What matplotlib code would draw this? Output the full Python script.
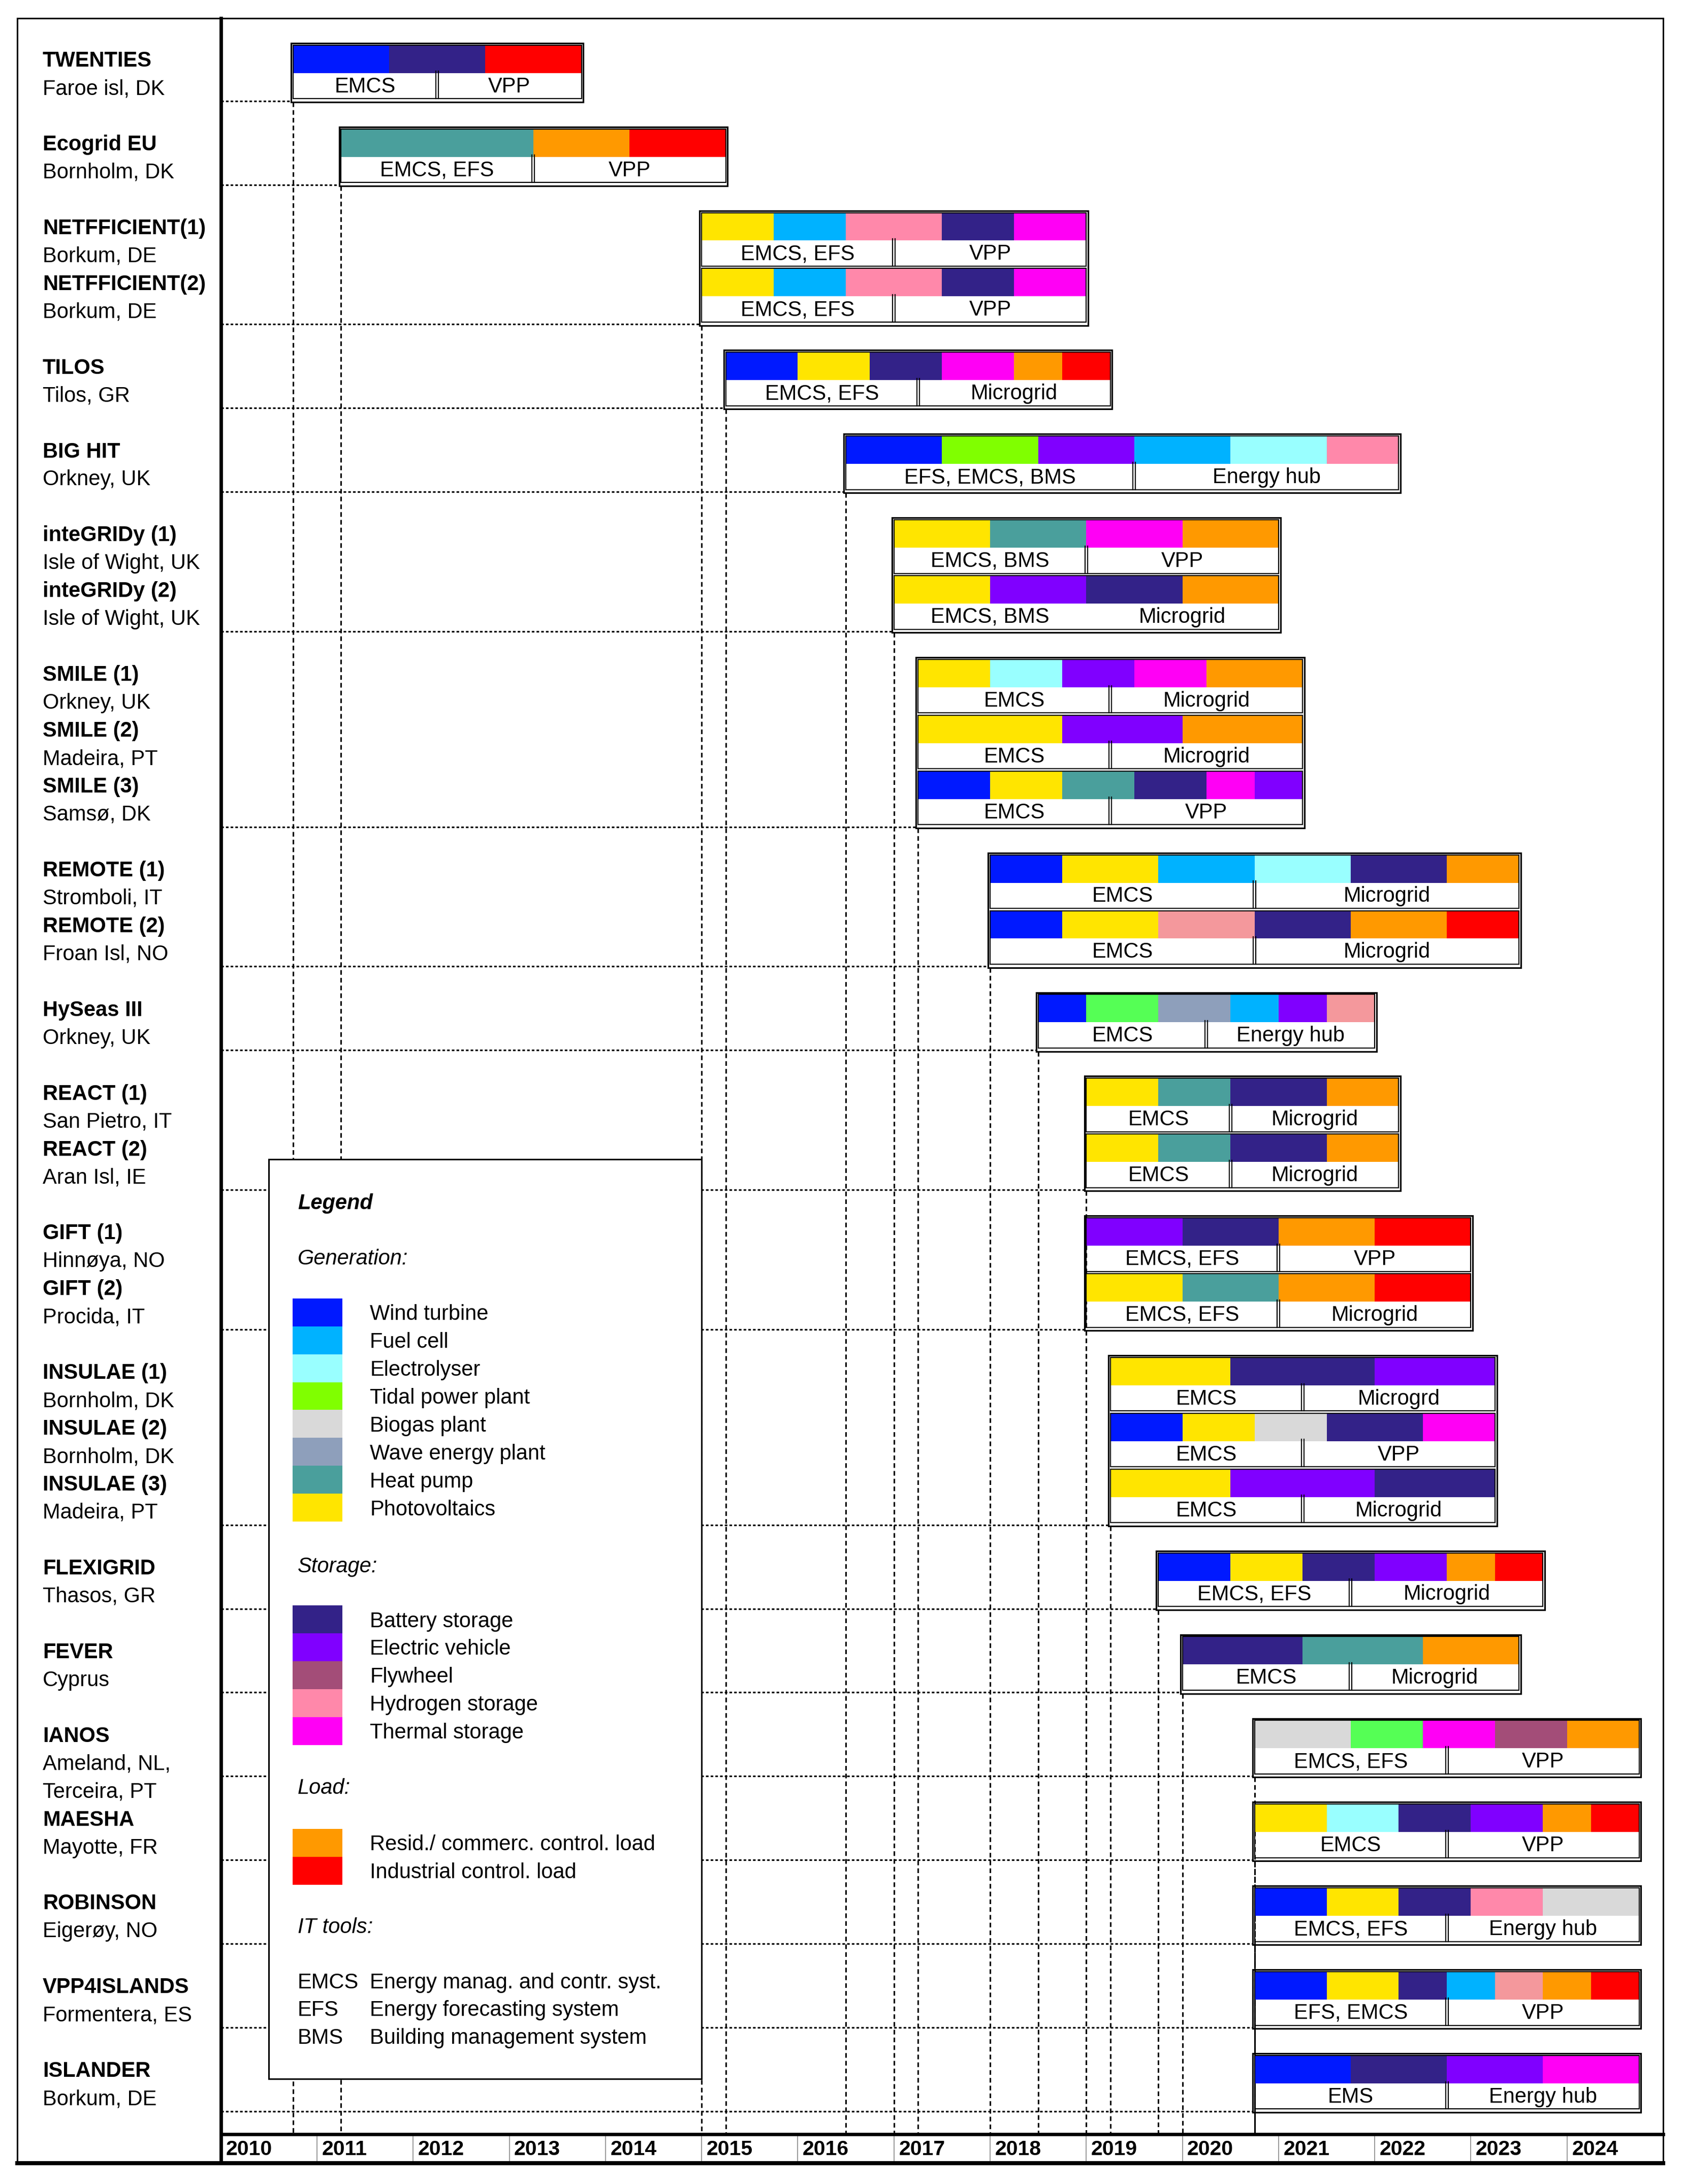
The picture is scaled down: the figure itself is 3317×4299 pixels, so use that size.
import matplotlib
matplotlib.use("Agg")
import matplotlib.pyplot as plt
from matplotlib.patches import Rectangle

plt.rcParams['font.family'] = ['Liberation Sans', 'DejaVu Sans']

# ---------------- data ----------------
years = list(range(2010, 2025))

component_codes = ['W', 'FC', 'EL', 'TI', 'BG', 'WV', 'HP', 'PV',
                   'BA', 'EV', 'FW', 'H2', 'TS', 'RL', 'IL', 'H2b', 'TIb']
component_colors = ['#0019FF', '#00B2FF', '#99FFFF', '#80FF00', '#D9D9D9', '#8E9FBB', '#4A9F9C', '#FFE500',
                    '#332288', '#8000FF', '#A34D78', '#FF88AA', '#FF00F5', '#FF9900', '#FF0000', '#F4989C', '#55FF55']

gen_labels = ['Wind turbine', 'Fuel cell', 'Electrolyser', 'Tidal power plant', 'Biogas plant',
              'Wave energy plant', 'Heat pump', 'Photovoltaics']
gen_codes = ['W', 'FC', 'EL', 'TI', 'BG', 'WV', 'HP', 'PV']
sto_labels = ['Battery storage', 'Electric vehicle', 'Flywheel', 'Hydrogen storage', 'Thermal storage']
sto_codes = ['BA', 'EV', 'FW', 'H2', 'TS']
load_labels = ['Resid./ commerc. control. load', 'Industrial control. load']
load_codes = ['RL', 'IL']
it_abbr = ['EMCS', 'EFS', 'BMS']
it_desc = ['Energy manag. and contr. syst.', 'Energy forecasting system', 'Building management system']

project_lines = [
    [('TWENTIES', True), ('Faroe isl, DK', False)],
    [('Ecogrid EU', True), ('Bornholm, DK', False)],
    [('NETFFICIENT(1)', True), ('Borkum, DE', False), ('NETFFICIENT(2)', True), ('Borkum, DE', False)],
    [('TILOS', True), ('Tilos, GR', False)],
    [('BIG HIT', True), ('Orkney, UK', False)],
    [('inteGRIDy (1)', True), ('Isle of Wight, UK', False), ('inteGRIDy (2)', True), ('Isle of Wight, UK', False)],
    [('SMILE (1)', True), ('Orkney, UK', False), ('SMILE (2)', True), ('Madeira, PT', False),
     ('SMILE (3)', True), ('Samsø, DK', False)],
    [('REMOTE (1)', True), ('Stromboli, IT', False), ('REMOTE (2)', True), ('Froan Isl, NO', False)],
    [('HySeas III', True), ('Orkney, UK', False)],
    [('REACT (1)', True), ('San Pietro, IT', False), ('REACT (2)', True), ('Aran Isl, IE', False)],
    [('GIFT (1)', True), ('Hinnøya, NO', False), ('GIFT (2)', True), ('Procida, IT', False)],
    [('INSULAE (1)', True), ('Bornholm, DK', False), ('INSULAE (2)', True), ('Bornholm, DK', False),
     ('INSULAE (3)', True), ('Madeira, PT', False)],
    [('FLEXIGRID', True), ('Thasos, GR', False)],
    [('FEVER', True), ('Cyprus', False)],
    [('IANOS', True), ('Ameland, NL,', False), ('Terceira, PT', False)],
    [('MAESHA', True), ('Mayotte, FR', False)],
    [('ROBINSON', True), ('Eigerøy, NO', False)],
    [('VPP4ISLANDS', True), ('Formentera, ES', False)],
    [('ISLANDER', True), ('Borkum, DE', False)],
]
project_start = [2010.75, 2011.25, 2015.0, 2015.25, 2016.5, 2017.0, 2017.25, 2018.0, 2018.5, 2019.0,
                 2019.0, 2019.25, 2019.75, 2020.0, 2020.75, 2020.75, 2020.75, 2020.75, 2020.75]
project_end = [2013.75, 2015.25, 2019.0, 2019.25, 2022.25, 2021.0, 2021.25, 2023.5, 2022.0, 2022.25,
               2023.0, 2023.25, 2023.75, 2023.5, 2024.75, 2024.75, 2024.75, 2024.75, 2024.75]

bar_group = [0, 1, 2, 2, 3, 4, 5, 5, 6, 6, 6, 7, 7, 8, 9, 9, 10, 10, 11, 11, 11, 12, 13, 14, 15, 16, 17, 18]
bar_segments = [
    [('W', 1), ('BA', 1), ('IL', 1)],
    [('HP', 2), ('RL', 1), ('IL', 1)],
    [('PV', .75), ('FC', .75), ('H2', 1), ('BA', .75), ('TS', .75)],
    [('PV', .75), ('FC', .75), ('H2', 1), ('BA', .75), ('TS', .75)],
    [('W', .75), ('PV', .75), ('BA', .75), ('TS', .75), ('RL', .5), ('IL', .5)],
    [('W', 1), ('TI', 1), ('EV', 1), ('FC', 1), ('EL', 1), ('H2', .75)],
    [('PV', 1), ('HP', 1), ('TS', 1), ('RL', 1)],
    [('PV', 1), ('EV', 1), ('BA', 1), ('RL', 1)],
    [('PV', .75), ('EL', .75), ('EV', .75), ('TS', .75), ('RL', 1)],
    [('PV', 1.5), ('EV', 1.25), ('RL', 1.25)],
    [('W', .75), ('PV', .75), ('HP', .75), ('BA', .75), ('TS', .5), ('EV', .5)],
    [('W', .75), ('PV', 1), ('FC', 1), ('EL', 1), ('BA', 1), ('RL', .75)],
    [('W', .75), ('PV', 1), ('H2b', 1), ('BA', 1), ('RL', 1), ('IL', .75)],
    [('W', .5), ('TIb', .75), ('WV', .75), ('FC', .5), ('EV', .5), ('H2b', .5)],
    [('PV', .75), ('HP', .75), ('BA', 1), ('RL', .75)],
    [('PV', .75), ('HP', .75), ('BA', 1), ('RL', .75)],
    [('EV', 1), ('BA', 1), ('RL', 1), ('IL', 1)],
    [('PV', 1), ('HP', 1), ('RL', 1), ('IL', 1)],
    [('PV', 1.25), ('BA', 1.5), ('EV', 1.25)],
    [('W', .75), ('PV', .75), ('BG', .75), ('BA', 1), ('TS', .75)],
    [('PV', 1.25), ('EV', 1.5), ('BA', 1.25)],
    [('W', .75), ('PV', .75), ('BA', .75), ('EV', .75), ('RL', .5), ('IL', .5)],
    [('BA', 1.25), ('HP', 1.25), ('RL', 1)],
    [('BG', 1), ('TIb', .75), ('TS', .75), ('FW', .75), ('RL', .75)],
    [('PV', .75), ('EL', .75), ('BA', .75), ('EV', .75), ('RL', .5), ('IL', .5)],
    [('W', .75), ('PV', .75), ('BA', .75), ('H2', .75), ('BG', 1)],
    [('W', .75), ('PV', .75), ('BA', .5), ('FC', .5), ('H2b', .5), ('RL', .5), ('IL', .5)],
    [('W', 1), ('BA', 1), ('EV', 1), ('TS', 1)],
]
bar_left_label = ['EMCS', 'EMCS, EFS', 'EMCS, EFS', 'EMCS, EFS', 'EMCS, EFS', 'EFS, EMCS, BMS',
                  'EMCS, BMS', 'EMCS, BMS', 'EMCS', 'EMCS', 'EMCS', 'EMCS', 'EMCS', 'EMCS',
                  'EMCS', 'EMCS', 'EMCS, EFS', 'EMCS, EFS', 'EMCS', 'EMCS', 'EMCS', 'EMCS, EFS',
                  'EMCS', 'EMCS, EFS', 'EMCS', 'EMCS, EFS', 'EFS, EMCS', 'EMS']
bar_right_label = ['VPP', 'VPP', 'VPP', 'VPP', 'Microgrid', 'Energy hub',
                   'VPP', 'Microgrid', 'Microgrid', 'Microgrid', 'VPP', 'Microgrid', 'Microgrid', 'Energy hub',
                   'Microgrid', 'Microgrid', 'VPP', 'Microgrid', 'Microgrd', 'VPP', 'Microgrid', 'Microgrid',
                   'Microgrid', 'VPP', 'VPP', 'Energy hub', 'VPP', 'Energy hub']
bar_divider = [2012.25, 2013.25, 2017.0, 2017.0, 2017.25, 2019.5,
               2019.0, None, 2019.25, 2019.25, 2019.25, 2020.75, 2020.75, 2020.25,
               2020.5, 2020.5, 2021.0, 2021.0, 2021.25, 2021.25, 2021.25, 2021.75,
               2021.75, 2022.75, 2022.75, 2022.75, 2022.75, 2022.75]

# ---------------- layout ----------------
W, H, DPI = 3317, 4299, 100
PX_U = 54.96            # pixels per row unit
X0_PX, X1_PX = 434.8, 3274.0
YEAR0, YEAR1 = 2010, 2025
YEAR_PX = (X1_PX - X0_PX) / (YEAR1 - YEAR0)


def px2yr(px):
    return YEAR0 + (px - X0_PX) / YEAR_PX


color_of = dict(zip(component_codes, component_colors))

fig = plt.figure(figsize=(W / DPI, H / DPI), dpi=DPI)
fig.patch.set_facecolor('white')
ax = fig.add_axes([X0_PX / W, 0, (X1_PX - X0_PX) / W, 1])
ax.set_xlim(YEAR0, YEAR1)
ax.set_ylim(H / PX_U, 0)
ax.axis('off')

top_u = 36 / PX_U
bot_u = 4258 / PX_U
axis_u = 4201 / PX_U
xl = px2yr(34)
xr = YEAR1

# frame
kw = dict(color='black', clip_on=False, solid_capstyle='projecting', zorder=20)
ax.plot([xl, xr], [top_u, top_u], lw=2.2, **kw)
ax.plot([xl, xl], [top_u, bot_u], lw=2.2, **kw)
ax.plot([xr, xr], [top_u, bot_u], lw=2.2, **kw)
ax.plot([xl, xr], [bot_u, bot_u], lw=5.8, **kw)
ax.plot([YEAR0, YEAR0], [top_u, bot_u], lw=5.0, **kw)
ax.plot([YEAR0, YEAR1], [axis_u, axis_u], lw=4.75, **kw)
for y in years[1:]:
    ax.plot([y, y], [axis_u, bot_u], color='#9a9a9a', lw=1.4, clip_on=False, zorder=3)
for y in years:
    ax.text(y + 0.05, axis_u + 0.75, str(y), fontsize=29.5, fontweight='bold',
            ha='left', va='baseline', clip_on=False, zorder=21)

# group geometry
n_groups = len(project_start)
bars_per_group = [bar_group.count(g) for g in range(n_groups)]
group_top, group_bottom = [], []
u = 0.615
for g in range(n_groups):
    u += 1.0
    group_top.append(u)
    u += 2.0 * bars_per_group[g]
    group_bottom.append(u)

# left panel texts
name_x = px2yr(84)
for g, lines in enumerate(project_lines):
    for k, (txt, bold) in enumerate(lines):
        yc = group_top[g] + 0.5 + k
        ax.text(name_x, yc + 0.27, txt, fontsize=30,
                fontweight='bold' if bold else 'normal',
                ha='left', va='baseline', clip_on=False, zorder=21)

# guide lines
for g in range(n_groups):
    x0 = project_start[g]
    yb = group_bottom[g]
    ax.plot([YEAR0, x0 - 0.02], [yb, yb], color='black', lw=2.3,
            linestyle=(0, (1.6, 1.3)), zorder=2, clip_on=False)
    ax.plot([x0, x0], [yb + 0.04, axis_u], color='black', lw=2.2,
            linestyle=(0, (3.0, 2.0)), zorder=2, clip_on=False)

# bars
sub_index = {}
for b, g in enumerate(bar_group):
    k = sub_index.get(g, 0)
    sub_index[g] = k + 1
    x0, x1 = project_start[g], project_end[g]
    T = group_top[g] + 2.0 * k
    left = x0
    for code, w in bar_segments[b]:
        ax.barh(T, w, left=left, height=1.0, align='edge', color=color_of[code],
                edgecolor='none', linewidth=0, zorder=4)
        left += w
    ax.add_patch(Rectangle((x0, T), x1 - x0, 1.92, fill=False, edgecolor='black',
                           lw=1.6, zorder=6))
    div = bar_divider[b]
    if div is not None:
        for dx in (-0.013, 0.013):
            ax.plot([div + dx, div + dx], [T + 0.94, T + 1.92], color='black', lw=1.6, zorder=6)
        lc = (x0 + div) / 2
        rc = (div + x1) / 2
    else:
        lc = x0 + (x1 - x0) * 0.25
        rc = x0 + (x1 - x0) * 0.75
    ax.text(lc, T + 1.42 + 0.27, bar_left_label[b], fontsize=30, ha='center', va='baseline', zorder=7)
    ax.text(rc, T + 1.42 + 0.27, bar_right_label[b], fontsize=30, ha='center', va='baseline', zorder=7)

for g in range(n_groups):
    x0, x1 = project_start[g], project_end[g]
    ax.add_patch(Rectangle((x0 - 0.02, group_top[g] - 0.07), (x1 - x0) + 0.04,
                           group_bottom[g] - group_top[g] + 0.11, fill=False,
                           edgecolor='black', lw=2.3, zorder=6))

# legend
lg_x0, lg_x1 = 2010.5, 2015.0
lg_y0, lg_y1 = 41.52, 74.45
ax.add_patch(Rectangle((lg_x0, lg_y0), lg_x1 - lg_x0, lg_y1 - lg_y0, facecolor='white',
                       edgecolor='black', lw=2.2, zorder=10))
head_x = px2yr(586)
sw_x0, sw_x1 = px2yr(576), px2yr(674)
item_x = px2yr(728.5)
off = 0.27
ax.text(head_x, 43.03 + off, 'Legend', fontsize=30, fontweight='bold', fontstyle='italic',
        va='baseline', ha='left', zorder=11)
ax.text(head_x, 45.02 + off, 'Generation:', fontsize=30, fontstyle='italic', va='baseline', ha='left', zorder=11)
ax.text(head_x, 56.04 + off, 'Storage:', fontsize=30, fontstyle='italic', va='baseline', ha='left', zorder=11)
ax.text(head_x, 63.97 + off, 'Load:', fontsize=30, fontstyle='italic', va='baseline', ha='left', zorder=11)
ax.text(head_x, 68.96 + off, 'IT tools:', fontsize=30, fontstyle='italic', va='baseline', ha='left', zorder=11)


def legend_items(labels, codes, first):
    for i, (lab, code) in enumerate(zip(labels, codes)):
        yc = first + i
        ax.barh(yc - 0.5, sw_x1 - sw_x0, left=sw_x0, height=1.0, align='edge',
                color=color_of[code], edgecolor='none', linewidth=0, zorder=11)
        ax.text(item_x, yc + off, lab, fontsize=30, va='baseline', ha='left', zorder=11)


legend_items(gen_labels, gen_codes, 47.0)
legend_items(sto_labels, sto_codes, 58.0)
legend_items(load_labels, load_codes, 66.0)
for i, (ab, ds) in enumerate(zip(it_abbr, it_desc)):
    yc = 70.95 + i * 0.985
    ax.text(head_x, yc + off, ab, fontsize=30, va='baseline', ha='left', zorder=11)
    ax.text(item_x, yc + off, ds, fontsize=30, va='baseline', ha='left', zorder=11)

fig.savefig('out.png', dpi=DPI, facecolor='white')
